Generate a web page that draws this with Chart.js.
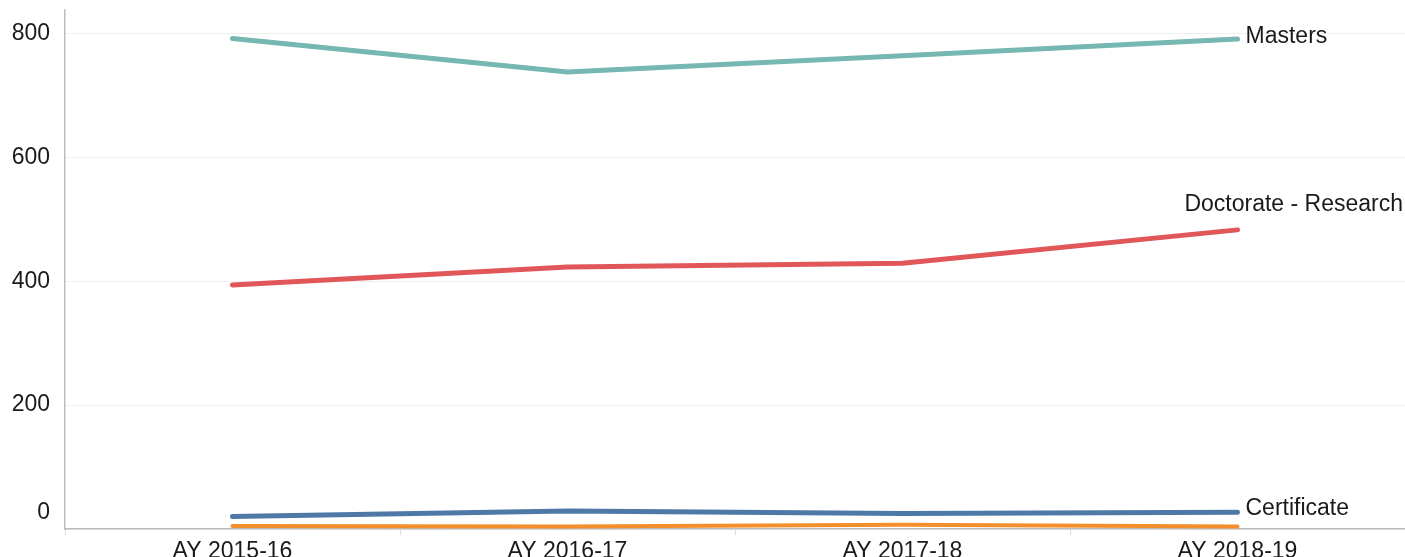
<!DOCTYPE html>
<html>
<head>
<meta charset="utf-8">
<script src="https://cdn.jsdelivr.net/npm/chart.js@4/dist/chart.umd.min.js"></script>
<style>
    html, body { margin: 0; padding: 0; background: #fff; overflow: hidden; }
    #wrap { position: relative; width: 1405px; height: 557px; }
</style>
</head>
<body>
<div id="wrap"><canvas id="trendChart"></canvas></div>
<script>
const years = ['AY 2015-16', 'AY 2016-17', 'AY 2017-18', 'AY 2018-19'];
const masters = [792, 738, 764, 791];
const doctorateResearch = [394, 423, 429, 483];
const certificate = [20, 29, 25, 27];
const doctorateProfessional = [5, 4, 7, 4];
const yTicks = [0, 200, 400, 600, 800];

const textColor = '#1a1a1a';
const fontFamily = "'Liberation Sans', Arial, sans-serif";
const fontSize = 23;

// Series names drawn next to the last point (orange one is not labelled)
const endLabels = {
    'Masters': { dx: 8, dy: -2 },
    'Doctorate - Research': { dx: 8, dy: -25, fitRight: true },
    'Certificate': { dx: 8, dy: -4 }
};

const endLabelPlugin = {
    id: 'endLabels',
    afterDatasetsDraw(chart) {
        const ctx = chart.ctx;
        ctx.save();
        ctx.font = `${fontSize}px ${fontFamily}`;
        ctx.fillStyle = textColor;
        ctx.textBaseline = 'middle';
        ctx.textAlign = 'left';
        chart.data.datasets.forEach((ds, i) => {
            const cfg = endLabels[ds.label];
            if (!cfg) return;
            const meta = chart.getDatasetMeta(i);
            const pt = meta.data[meta.data.length - 1];
            let x = pt.x + cfg.dx;
            const w = ctx.measureText(ds.label).width;
            if (cfg.fitRight && x + w > chart.width - 2) x = chart.width - 2 - w;
            ctx.fillText(ds.label, x, pt.y + cfg.dy);
        });
        // zero label sits above the axis line
        const y = chart.scales.y;
        ctx.textAlign = 'right';
        ctx.fillText('0', y.right - 15, y.getPixelForValue(0) - 16);
        ctx.restore();
    }
};

function line(label, data, color, width) {
    return {
        label: label,
        data: data,
        borderColor: color,
        backgroundColor: color,
        borderWidth: width,
        borderCapStyle: 'round',
        borderJoinStyle: 'round',
        pointRadius: 0,
        pointHoverRadius: 0,
        tension: 0,
        fill: false
    };
}

new Chart(document.getElementById('trendChart'), {
    type: 'line',
    data: {
        labels: years,
        datasets: [
            line('Masters', masters, '#76b7b2', 5),
            line('Doctorate - Research', doctorateResearch, '#e15759', 5),
            line('Certificate', certificate, '#4e79a7', 5),
            line('Doctorate - Professional', doctorateProfessional, '#f28e2b', 4)
        ]
    },
    options: {
        responsive: true,
        maintainAspectRatio: false,
        animation: false,
        layout: { padding: { top: 10, right: 0, left: 0, bottom: 0 } },
        plugins: {
            legend: { display: false },
            tooltip: { enabled: false }
        },
        scales: {
            x: {
                offset: true,
                grid: {
                    offset: true,
                    drawOnChartArea: false,
                    tickLength: 6,
                    color: '#dcdcdc'
                },
                border: { color: '#bdbdbd', width: 1.5 },
                ticks: {
                    color: textColor,
                    padding: 3,
                    maxRotation: 0,
                    font: { size: fontSize, family: fontFamily }
                },
                afterFit: s => { s.height = 28; s.paddingLeft = 0; s.paddingRight = 0; }
            },
            y: {
                min: 0,
                max: 838,
                afterBuildTicks: s => { s.ticks = yTicks.map(v => ({ value: v })); },
                grid: { color: '#efefef', drawTicks: false },
                border: { color: '#bdbdbd', width: 1.5 },
                ticks: {
                    padding: 15,
                    color: c => c.tick && c.tick.value === 0 ? 'transparent' : textColor,
                    font: { size: fontSize, family: fontFamily }
                },
                afterFit: s => { s.width = 65; s.paddingTop = 0; s.paddingBottom = 0; }
            }
        }
    },
    plugins: [endLabelPlugin]
});
</script>
</body>
</html>
